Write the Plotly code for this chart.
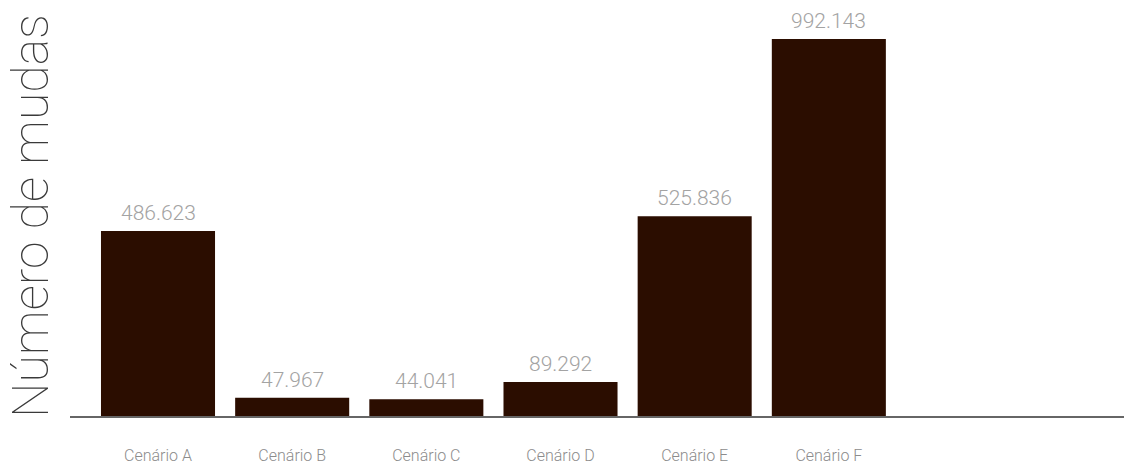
import plotly.graph_objects as go

# Data
cenarios = ["Cenário A", "Cenário B", "Cenário C", "Cenário D", "Cenário E", "Cenário F"]
mudas = [486.623, 47.967, 44.041, 89.292, 525.836, 992.143]
rotulos = ["486.623", "47.967", "44.041", "89.292", "525.836", "992.143"]

FONT = "Roboto"

fig = go.Figure(
    go.Bar(
        x=cenarios,
        y=mudas,
        marker=dict(color="#2b0d00", line=dict(width=0)),
        cliponaxis=False,
        hoverinfo="skip",
    )
)

# value labels floating above each bar
for c, v, t in zip(cenarios, mudas, rotulos):
    fig.add_annotation(
        x=c,
        y=v,
        text=t,
        showarrow=False,
        yanchor="bottom",
        yshift=4,
        font=dict(family=FONT, size=21, color="#a3a3a3", weight=300),
    )

fig.update_layout(
    width=1124,
    height=466,
    margin=dict(l=70, r=0, t=16, b=50),
    paper_bgcolor="white",
    plot_bgcolor="white",
    bargap=0.15,
    showlegend=False,
    font=dict(family=FONT, weight=300),
)

fig.update_xaxes(
    type="category",
    range=[-0.656, 7.2],
    automargin=False,
    showline=True,
    linecolor="#666666",
    linewidth=2,
    showgrid=False,
    ticks="",
    ticklabelstandoff=24,
    tickfont=dict(family=FONT, size=16, color="#8c8c8c", weight=300),
)

fig.update_yaxes(
    range=[0, 1052.7],
    automargin=False,
    showline=False,
    showgrid=False,
    zeroline=False,
    showticklabels=False,
    ticks="",
    title=dict(
        text="Número de mudas",
        font=dict(family=FONT, size=50, color="#3a3a3a", weight=100),
        standoff=4,
    ),
)

fig.write_html("out.html")
